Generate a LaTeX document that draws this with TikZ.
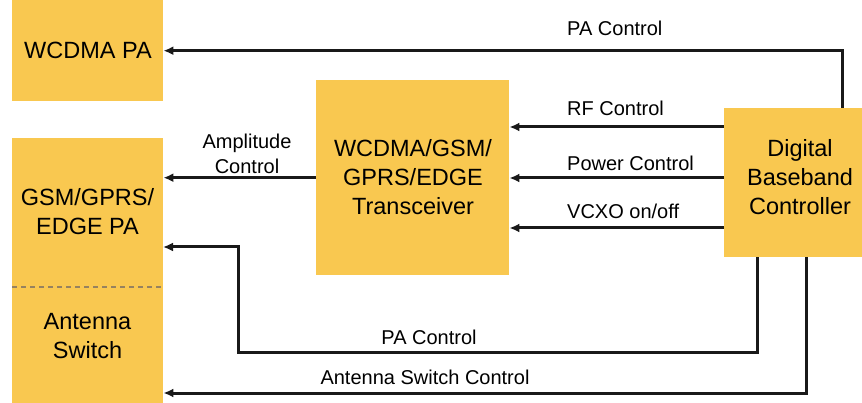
\documentclass[tikz,border=0pt]{standalone}
\usepackage{fontspec}
\setmainfont{Liberation Sans}
\usetikzlibrary{arrows.meta}
\definecolor{boxfill}{RGB}{249,200,80}
\definecolor{dashcol}{RGB}{150,130,95}
\definecolor{linecol}{RGB}{25,25,25}
\begin{document}
\begin{tikzpicture}[x=1pt,y=-1pt,
  blk/.style={fill=boxfill,draw=none,inner sep=0pt,anchor=north west},
  btext/.style={font=\fontsize{23.5}{29}\selectfont,align=center,inner sep=0pt},
  lbl/.style={font=\fontsize{20}{25}\selectfont,inner sep=0pt},
  conn/.style={draw=linecol,line width=3pt,-{Latex[length=10pt,width=9pt]}}
]
\useasboundingbox (0,0) rectangle (862,403);

% boxes
\node[blk,minimum width=151pt,minimum height=101pt] (wpa) at (12,0) {};
\node[btext] (wpatext) at (88,50) {WCDMA PA};
\node[blk,minimum width=151pt,minimum height=265pt] (gsm) at (12,138) {};
\node[btext] (gsmtext) at (87.5,212) {GSM/GPRS/\\EDGE PA};
\node[btext] (anttext) at (87.5,336) {Antenna\\Switch};
\node[blk,minimum width=193pt,minimum height=195pt] (trx) at (316,80) {};
\node[btext] (trxtext) at (413,177) {WCDMA/GSM/\\GPRS/EDGE\\Transceiver};
\node[blk,minimum width=138pt,minimum height=149pt] (bb) at (724,108) {};
\node[btext] (bbtext) at (800,177) {Digital\\Baseband\\Controller};

% dashed divider
\coordinate (dy) at (0,287);
\draw[dashcol,line width=1.3pt,dash pattern=on 5pt off 4pt] (gsm.west |- dy) -- (gsm.east |- dy);

% helper coordinates
\coordinate (c1) at (842,0);
\coordinate (rf) at (724,127);
\coordinate (pw) at (724,178);
\coordinate (vc) at (724,228);
\coordinate (p1) at (757,0);
\coordinate (pb) at (238,352);
\coordinate (pa) at (163,247);
\coordinate (a1) at (806,393);

% connectors
\draw[conn] (bb.north -| c1) |- (wpa.east);
\draw[conn] (rf) -- (rf -| trx.east);
\draw[conn] (pw) -- (pw -| trx.east);
\draw[conn] (vc) -- (vc -| trx.east);
\draw[conn] (trx.west) -- (trx.west -| gsm.east);
\draw[conn] (bb.south -| p1) |- (pb) |- (pa);
\draw[conn] (bb.south -| a1) |- (gsm.east |- a1);

% labels
\node[lbl,anchor=west] (l1) at (567,28) {PA Control};
\node[lbl,anchor=west] (l2) at (567,108) {RF Control};
\node[lbl,anchor=west] (l3) at (567,163) {Power Control};
\node[lbl,anchor=west] (l4) at (567,211) {VCXO on/off};
\node[lbl,align=center] (l5) at (247,154) {Amplitude\\Control};
\node[lbl] (l6) at (429,337) {PA Control};
\node[lbl] (l7) at (425,377) {Antenna Switch Control};
\end{tikzpicture}
\end{document}
